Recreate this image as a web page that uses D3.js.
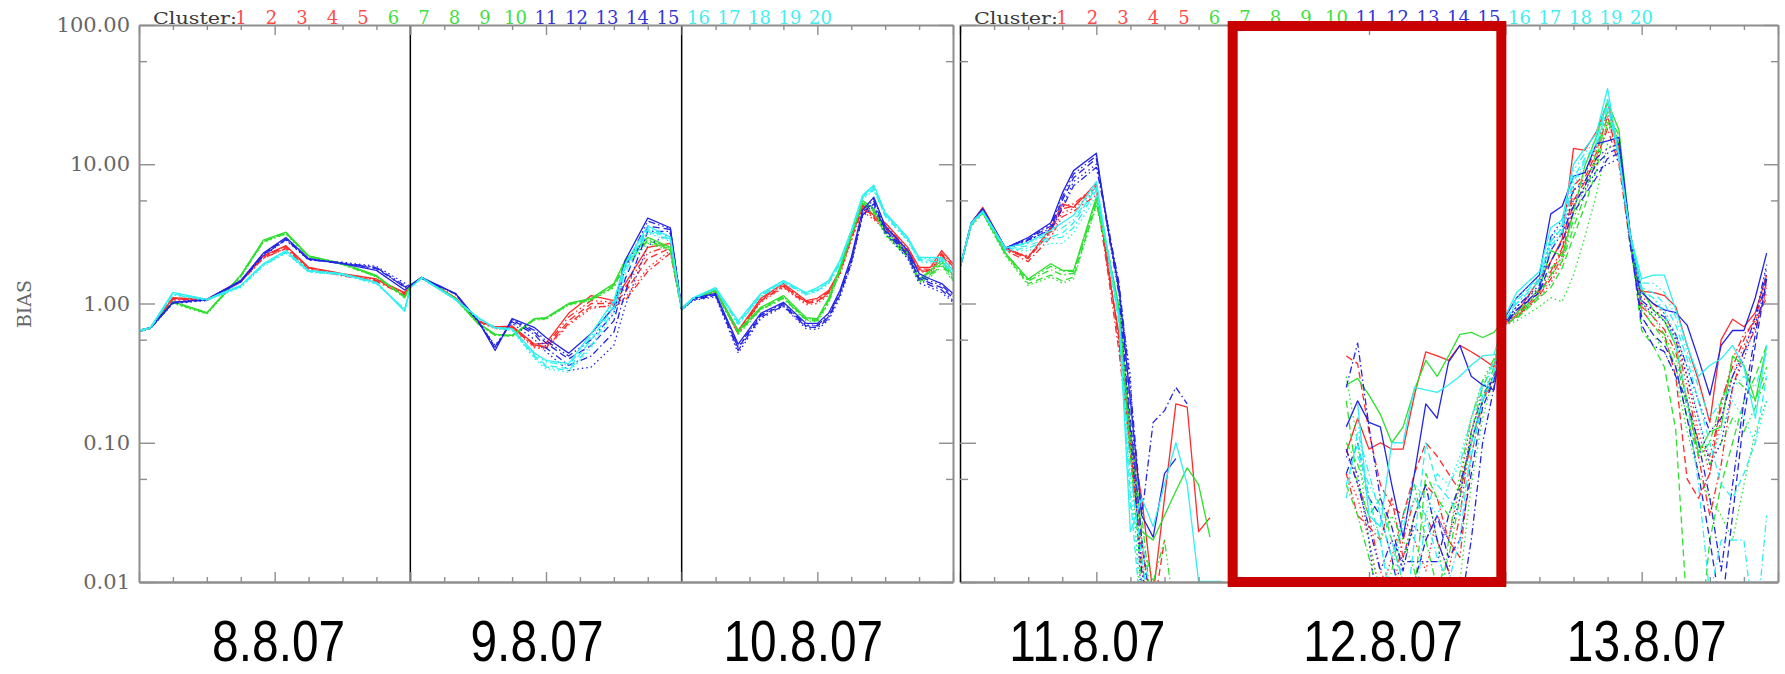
<!DOCTYPE html>
<html><head><meta charset="utf-8">
<script src="https://cdn.jsdelivr.net/npm/d3@7/dist/d3.min.js"></script>
<style>html,body{margin:0;padding:0;background:#fff;}svg{display:block}</style>
</head><body>
<svg id="chart" width="1785" height="674"></svg>
<script>
// ---------------- DATA ----------------
const clusterLabels = d3.range(1, 21).map(String);
const dayLabels = ["8.8.07", "9.8.07", "10.8.07", "11.8.07", "12.8.07", "13.8.07"];
const yTickValues = [100, 10, 1, 0.1, 0.01];
const yTickLabels = ["100.00", "10.00", "1.00", "0.10", "0.01"];
const yMinorValues = [55, 5.5, 0.55, 0.055];

// hours since start of each panel (left: 8.8-10.8, right: 11.8-13.8)
const hoursLeft = [0,1,3,6,9,11,13,15,18,21,23.5,24, 25,28,30,31.5,33,35,36,38,40,42,43,45,47,48, 49,51,53,55,57,59,60,61,62,63,64,65,66,68,69,70,71,72];
const hoursRight = [0,1,2,4,6,8,9,10,12,13,14,15,16,17,18,19,20,21,22,23, 34,35,36,37,38,39,40,41,42,43,44,45,46,47,48, 49,51,52,53,54,55,56,57,58,59,60,61,62,63,64,65,66,67,68,69,70,71];

// clusters 1-5 (red), 6-10 (green), 11-15 (blue), 16-20 (cyan)
const redLeft = [
 [0.64,0.67,1.10,1.07,1.46,2.20,2.60,1.82,1.64,1.50,1.20,1.35, 1.54,1.10,0.75,0.68,0.69,0.51,0.52,0.85,1.14,1.05,1.39,2.53,2.70,0.92, 1.09,1.24,0.64,1.09,1.39,1.05,1.09,1.24,1.73,3.10,5.10,4.30,3.80,2.53,1.82,1.82,2.40,1.93],
 [0.63,0.66,1.06,1.05,1.42,2.10,2.50,1.78,1.62,1.48,1.18,1.33, 1.52,1.08,0.74,0.66,0.66,0.48,0.47,0.70,0.92,0.98,1.10,1.80,2.40,0.90, 1.07,1.22,0.60,1.02,1.30,0.98,1.00,1.15,1.60,2.80,4.60,4.00,3.40,2.30,1.70,1.65,2.10,1.75],
 [0.64,0.67,1.08,1.06,1.44,2.15,2.55,1.80,1.60,1.46,1.17,1.34, 1.53,1.09,0.75,0.67,0.68,0.50,0.49,0.75,1.00,1.00,1.20,2.10,2.50,0.91, 1.08,1.23,0.62,1.05,1.34,1.02,1.04,1.20,1.68,2.95,4.90,4.20,3.60,2.40,1.75,1.72,2.25,1.85],
 [0.63,0.66,1.07,1.05,1.43,2.12,2.48,1.76,1.58,1.44,1.15,1.32, 1.52,1.09,0.74,0.67,0.67,0.49,0.48,0.72,0.95,0.95,1.05,1.70,2.30,0.90, 1.08,1.22,0.61,1.04,1.32,1.00,1.03,1.18,1.65,2.90,4.80,4.10,3.50,2.35,1.72,1.70,2.20,1.80],
 [0.64,0.67,1.09,1.06,1.45,2.18,2.58,1.81,1.63,1.49,1.19,1.34, 1.53,1.10,0.75,0.68,0.68,0.50,0.50,0.80,1.05,1.02,1.30,2.30,2.60,0.91, 1.09,1.24,0.63,1.07,1.36,1.03,1.06,1.22,1.70,3.00,5.00,4.20,3.70,2.45,1.78,1.76,2.30,1.88]
];
const greenLeft = [
 [0.64,0.67,1.03,0.86,1.60,2.85,3.25,2.20,1.94,1.59,1.12,1.35, 1.54,1.09,0.72,0.60,0.59,0.78,0.79,1.00,1.09,1.39,2.04,2.98,2.53,0.92, 1.09,1.24,0.64,0.94,1.14,0.79,0.78,1.09,1.82,3.20,5.50,4.80,3.35,2.30,1.50,1.73,2.04,1.60],
 [0.63,0.66,1.00,0.84,1.55,2.75,3.15,2.15,1.90,1.55,1.10,1.33, 1.52,1.07,0.71,0.59,0.58,0.76,0.77,0.97,1.05,1.30,1.85,2.70,2.40,0.90, 1.07,1.22,0.60,0.90,1.08,0.75,0.74,1.00,1.70,3.00,5.20,4.40,3.10,2.10,1.40,1.55,1.85,1.45],
 [0.64,0.67,1.02,0.85,1.58,2.80,3.20,2.18,1.92,1.57,1.11,1.34, 1.53,1.08,0.72,0.60,0.58,0.77,0.78,0.98,1.07,1.35,1.95,2.85,2.45,0.91, 1.08,1.23,0.62,0.92,1.10,0.77,0.76,1.05,1.75,3.10,5.30,4.60,3.20,2.20,1.45,1.62,1.95,1.52],
 [0.63,0.66,1.01,0.85,1.56,2.78,3.18,2.16,1.91,1.56,1.10,1.33, 1.52,1.08,0.71,0.59,0.59,0.77,0.78,0.99,1.06,1.32,1.90,2.80,2.42,0.90, 1.08,1.22,0.61,0.91,1.09,0.76,0.75,1.02,1.72,3.05,5.25,4.50,3.15,2.15,1.42,1.58,1.90,1.48],
 [0.64,0.67,1.03,0.86,1.59,2.82,3.22,2.19,1.93,1.58,1.11,1.34, 1.53,1.09,0.72,0.60,0.59,0.78,0.79,1.00,1.08,1.37,2.00,2.90,2.50,0.91, 1.09,1.23,0.63,0.93,1.12,0.78,0.77,1.07,1.78,3.15,5.40,4.70,3.25,2.25,1.48,1.68,2.00,1.56]
];
const blueLeft = [
 [0.64,0.67,1.02,1.07,1.46,2.30,2.98,2.10,1.93,1.73,1.25,1.35, 1.54,1.18,0.75,0.46,0.78,0.67,0.57,0.44,0.61,0.94,2.04,4.10,3.50,0.92, 1.09,1.18,0.51,0.85,1.02,0.72,0.72,0.85,1.24,2.14,4.67,5.80,3.60,2.40,1.64,1.50,1.39,1.18],
 [0.63,0.66,1.00,1.05,1.42,2.20,2.85,2.05,1.98,1.85,1.40,1.33, 1.52,1.16,0.74,0.50,0.72,0.55,0.45,0.33,0.35,0.50,0.95,2.60,3.20,0.90, 1.05,1.12,0.44,0.78,0.95,0.66,0.65,0.76,1.10,1.90,4.20,5.00,3.20,2.10,1.40,1.30,1.20,1.02],
 [0.64,0.67,1.01,1.06,1.44,2.25,2.90,2.08,1.95,1.78,1.32,1.34, 1.53,1.17,0.75,0.48,0.76,0.62,0.52,0.40,0.50,0.75,1.50,3.60,3.40,0.91, 1.07,1.15,0.48,0.82,0.98,0.69,0.69,0.80,1.18,2.00,4.40,5.40,3.40,2.25,1.52,1.40,1.30,1.10],
 [0.63,0.66,1.01,1.06,1.43,2.22,2.88,2.06,1.94,1.80,1.35,1.33, 1.52,1.17,0.74,0.49,0.74,0.60,0.48,0.36,0.42,0.62,1.20,3.30,3.30,0.90, 1.06,1.14,0.46,0.80,0.96,0.68,0.67,0.78,1.15,1.95,4.30,5.20,3.30,2.20,1.48,1.35,1.25,1.05],
 [0.64,0.67,1.02,1.07,1.45,2.28,2.95,2.09,1.96,1.82,1.30,1.34, 1.53,1.18,0.75,0.47,0.77,0.64,0.54,0.42,0.55,0.85,1.80,3.90,3.45,0.91, 1.08,1.16,0.49,0.83,1.00,0.70,0.70,0.82,1.20,2.07,4.50,5.60,3.50,2.30,1.58,1.45,1.35,1.14]
];
const cyanLeft = [
 [0.64,0.67,1.20,1.07,1.35,1.93,2.40,1.73,1.64,1.42,0.88,1.30, 1.54,1.07,0.79,0.67,0.66,0.44,0.39,0.37,0.61,1.05,1.93,3.60,3.00,0.92, 1.10,1.30,0.75,1.18,1.46,1.20,1.30,1.46,2.04,3.35,6.00,7.10,4.50,2.98,2.14,2.14,2.14,1.73],
 [0.63,0.66,1.15,1.05,1.30,1.85,2.30,1.68,1.60,1.38,0.92,1.29, 1.52,1.06,0.78,0.66,0.64,0.40,0.34,0.32,0.48,0.85,1.60,3.20,2.80,0.90, 1.08,1.27,0.70,1.12,1.40,1.15,1.22,1.38,1.90,3.20,5.60,6.50,4.20,2.80,2.00,1.95,1.95,1.60],
 [0.64,0.67,1.18,1.06,1.33,1.90,2.35,1.70,1.62,1.40,0.90,1.30, 1.53,1.07,0.79,0.67,0.65,0.42,0.36,0.34,0.55,0.95,1.80,3.40,2.90,0.91, 1.09,1.28,0.72,1.15,1.43,1.18,1.26,1.42,1.97,3.28,5.80,6.80,4.35,2.90,2.07,2.05,2.05,1.66],
 [0.63,0.66,1.16,1.06,1.32,1.88,2.32,1.69,1.61,1.39,0.91,1.29, 1.52,1.06,0.78,0.66,0.65,0.41,0.35,0.33,0.50,0.90,1.70,3.30,2.85,0.90, 1.08,1.27,0.71,1.13,1.41,1.16,1.24,1.40,1.93,3.24,5.70,6.60,4.25,2.85,2.03,2.00,2.00,1.63],
 [0.64,0.67,1.19,1.07,1.34,1.92,2.38,1.72,1.63,1.41,0.89,1.30, 1.53,1.07,0.79,0.67,0.66,0.43,0.38,0.36,0.58,1.00,1.88,3.50,2.95,0.91, 1.09,1.29,0.74,1.17,1.45,1.19,1.28,1.44,2.00,3.30,5.90,6.90,4.40,2.95,2.10,2.10,2.10,1.70]
];

const redRight = [
 [1.82,3.80,4.90,2.50,2.14,3.50,5.20,4.90,7.30,1.80,0.60,0.116,0.04,0.008,0.04,0.19,0.18,0.023,0.029,null,
  0.085,0.15,0.09,0.10,0.09,0.09,0.22,0.45,0.42,0.39,0.50,0.45,0.40,0.35,0.78,
  0.85,1.50,2.00,2.90,13.0,12.6,17.0,28.0,13.0,3.20,1.22,1.20,1.14,0.95,0.50,0.28,0.14,0.55,0.77,0.68,0.86,1.60],
 [1.80,3.70,4.70,2.40,2.20,3.20,4.50,4.80,6.50,2.00,0.50,0.10,0.02,0.004,null,null,null,null,null,null,
  0.06,0.04,0.02,0.008,0.015,0.03,0.02,0.012,0.03,0.02,0.05,0.15,0.25,0.30,0.72,
  0.80,1.10,1.40,2.00,5.00,7.00,10.0,20.0,12.0,3.00,1.00,0.90,0.80,0.60,0.30,0.12,0.06,0.15,0.30,0.50,0.70,1.20],
 [1.81,3.75,4.80,2.45,2.10,3.30,4.80,5.00,6.80,1.90,0.55,0.09,0.018,0.006,0.02,null,null,null,null,null,
  0.42,0.37,0.12,0.05,0.035,0.03,0.06,0.10,0.08,0.06,0.045,0.10,0.20,0.30,0.74,
  0.82,1.20,1.60,2.40,6.50,8.00,12.0,22.0,11.0,2.80,0.90,0.70,0.60,0.30,0.055,0.04,0.06,0.20,0.35,0.55,0.80,1.40],
 [1.80,3.70,4.60,2.40,2.00,3.00,4.20,4.60,6.00,1.70,0.45,0.08,0.015,0.003,null,null,null,null,null,null,
  0.06,0.03,0.025,0.02,0.04,0.015,0.03,0.05,0.04,0.02,0.015,0.08,0.20,0.28,0.70,
  0.80,1.15,1.50,2.20,5.50,7.50,11.0,18.0,10.0,2.60,0.95,0.80,0.65,0.45,0.20,0.08,0.03,0.07,0.25,0.45,0.65,1.30],
 [1.82,3.80,4.85,2.50,2.15,3.40,5.00,5.20,7.00,2.10,0.52,0.10,0.012,0.004,null,null,null,null,null,null,
  0.09,0.05,0.03,0.012,0.008,0.02,0.04,0.03,0.02,0.012,0.03,0.12,0.22,0.30,0.73,
  0.82,1.25,1.70,2.50,7.00,8.50,13.0,24.0,12.0,2.90,1.10,1.00,0.85,0.55,0.25,0.10,0.08,0.18,0.40,0.60,0.75,1.10]
];
const greenRight = [
 [1.82,3.80,4.60,2.30,1.50,1.93,1.73,1.73,5.80,2.40,0.94,0.116,0.023,0.02,0.03,0.045,0.066,0.05,0.021,null,
  0.26,0.29,0.22,0.16,0.10,0.13,0.24,0.39,0.30,0.42,0.60,0.62,0.57,0.62,0.80,
  0.85,1.28,2.40,2.20,4.50,9.70,15.6,28.0,17.6,3.10,1.28,0.90,0.75,0.50,0.20,0.085,0.12,0.13,0.42,0.36,0.20,0.50],
 [1.80,3.60,4.40,2.20,1.35,1.55,1.40,1.50,5.00,2.30,0.90,0.10,0.004,null,null,null,null,null,null,null,
  0.30,0.10,0.02,0.008,0.004,0.015,0.03,0.05,0.02,0.006,0.01,0.05,0.15,0.30,0.70,
  0.75,0.95,1.10,1.03,1.60,3.00,6.00,14.0,12.0,2.50,0.80,0.60,0.45,0.30,0.12,0.06,0.04,0.03,0.02,0.05,0.12,0.20],
 [1.81,3.70,4.50,2.25,1.39,1.60,1.45,1.55,5.20,2.30,0.85,0.08,0.01,0.004,null,null,null,null,null,null,
  0.20,0.05,0.03,0.04,0.02,0.01,0.008,0.06,0.04,0.03,0.05,0.10,0.20,0.35,0.72,
  0.78,1.10,1.30,1.80,3.00,5.00,9.00,20.0,15.0,2.80,0.64,0.50,0.35,0.124,0.006,0.003,0.02,0.05,0.10,0.20,0.30,0.50],
 [1.80,3.65,4.50,2.25,1.45,1.75,1.60,1.65,5.50,2.35,0.90,0.12,0.03,0.005,null,null,null,null,null,null,
  0.05,0.03,0.015,0.007,0.012,0.03,0.05,0.02,0.009,0.015,0.04,0.12,0.25,0.38,0.74,
  0.80,1.15,1.60,2.00,3.50,6.00,11.0,22.0,14.0,2.90,0.90,0.70,0.55,0.35,0.15,0.08,0.10,0.20,0.30,0.25,0.20,0.35],
 [1.82,3.75,4.55,2.30,1.48,1.85,1.70,1.70,5.60,2.40,0.92,0.11,0.02,0.01,0.02,0.005,null,null,null,null,
  0.10,0.07,0.04,0.02,0.03,0.02,0.012,0.006,0.004,0.02,0.06,0.15,0.28,0.40,0.76,
  0.82,1.20,1.80,2.10,4.00,7.00,12.0,24.0,16.0,3.00,1.00,0.80,0.60,0.40,0.18,0.10,0.07,0.10,0.15,0.12,0.18,0.30]
];
const blueRight = [
 [1.82,3.80,4.80,2.50,2.98,3.80,6.20,9.00,12.0,3.50,1.30,0.20,0.03,0.021,0.06,0.077,null,null,null,null,
  0.13,0.20,0.14,0.13,0.05,0.021,0.06,0.19,0.15,0.38,0.50,0.30,0.26,0.24,0.80,
  1.10,1.60,4.40,5.00,8.20,8.70,14.0,14.7,15.6,3.10,1.20,1.00,0.90,0.86,0.70,0.40,0.22,0.50,0.64,0.64,1.10,2.30],
 [1.80,3.70,4.70,2.45,2.80,3.50,5.00,7.50,10.0,3.80,1.20,0.30,0.006,0.003,null,null,null,null,null,null,
  0.08,0.06,0.02,0.004,0.008,0.015,0.025,0.02,0.03,0.02,0.04,0.12,0.22,0.30,0.75,
  0.95,1.30,2.80,3.50,5.50,6.50,9.00,10.0,11.0,2.80,1.00,0.85,0.75,0.55,0.30,0.15,0.07,0.10,0.25,0.40,0.70,1.80],
 [1.81,3.75,4.75,2.50,2.90,3.60,5.50,8.00,11.0,3.60,1.25,0.15,0.02,0.005,null,null,null,null,null,null,
  0.06,0.10,0.04,0.03,0.015,0.006,0.01,0.02,0.03,0.015,0.02,0.06,0.18,0.28,0.72,
  0.90,1.20,2.00,2.80,4.50,6.00,8.00,11.0,12.0,2.60,0.80,0.60,0.50,0.35,0.15,0.06,0.02,0.006,0.03,0.15,0.50,1.50],
 [1.80,3.70,4.70,2.45,2.85,3.40,4.80,7.00,9.50,3.70,1.40,0.25,0.03,0.14,0.17,0.25,0.19,null,null,null,
  0.25,0.52,0.13,0.04,0.025,0.012,0.03,0.05,0.02,0.012,0.006,0.02,0.10,0.25,0.70,
  0.90,1.25,2.40,3.20,5.00,7.00,10.0,12.0,13.0,2.90,0.70,0.50,0.45,0.30,0.20,0.10,0.04,0.012,0.05,0.20,0.60,1.60],
 [1.82,3.80,4.80,2.50,2.95,3.70,5.80,8.50,11.5,3.40,1.15,0.12,0.012,0.004,null,null,null,null,null,null,
  0.09,0.05,0.025,0.012,0.02,0.014,0.014,0.014,0.014,0.03,0.05,0.10,0.20,0.30,0.74,
  0.95,1.35,3.00,4.00,6.50,7.50,11.0,13.0,14.0,3.00,1.05,0.90,0.80,0.60,0.35,0.20,0.12,0.15,0.30,0.45,0.80,1.90]
];
const cyanRight = [
 [1.82,3.80,4.60,2.50,2.75,3.35,3.80,4.30,7.50,2.40,0.80,0.023,0.04,0.025,0.05,0.10,0.05,0.0101,0.0101,0.0101,
  null,0.19,0.03,0.025,0.10,0.10,0.25,0.24,0.23,0.26,0.30,0.36,0.42,0.43,0.82,
  1.20,1.70,3.50,4.00,10.0,13.0,16.5,35.0,11.6,3.10,1.50,1.60,1.60,0.90,0.50,0.30,0.36,0.40,0.50,0.35,0.15,0.50],
 [1.80,3.70,4.50,2.40,2.40,2.70,2.70,3.20,6.00,2.30,0.75,0.05,0.008,null,null,null,null,null,null,null,
  null,0.15,0.03,0.02,0.008,0.03,0.05,0.04,0.03,0.05,0.08,0.15,0.25,0.35,0.76,
  1.00,1.40,2.50,3.20,7.00,10.0,13.0,25.0,12.0,3.00,1.20,1.10,0.90,0.60,0.35,0.15,0.08,0.12,0.20,0.15,0.10,0.20],
 [1.81,3.75,4.55,2.45,2.60,3.00,3.20,3.80,6.80,2.35,0.70,0.04,0.005,null,null,null,null,null,null,null,
  0.05,0.10,0.04,0.02,0.006,0.004,0.02,0.10,0.05,0.04,0.03,0.08,0.20,0.30,0.74,
  1.05,1.50,2.80,3.50,8.00,11.0,14.0,28.0,11.0,3.00,1.30,1.20,1.00,0.70,0.40,0.20,0.10,0.05,0.04,0.06,0.10,0.30],
 [1.80,3.70,4.50,2.40,2.50,2.90,3.00,3.50,6.50,2.30,0.78,0.06,0.015,0.004,null,null,null,null,null,null,
  0.04,0.12,0.06,0.03,0.015,0.025,0.04,0.03,0.015,0.01,0.02,0.10,0.22,0.32,0.75,
  1.00,1.45,2.60,3.30,7.50,10.5,13.5,26.0,11.5,3.00,1.25,1.10,0.85,0.50,0.20,0.05,0.008,0.02,0.02,0.02,0.004,0.03],
 [1.82,3.80,4.60,2.50,2.70,3.20,3.50,4.00,7.00,2.40,0.82,0.035,0.02,0.006,null,null,null,null,null,null,
  null,0.08,0.05,0.035,0.02,0.01,0.006,0.03,0.06,0.05,0.07,0.15,0.27,0.38,0.78,
  1.10,1.55,3.00,3.70,9.00,12.0,15.0,30.0,11.0,3.10,1.40,1.40,1.20,0.80,0.45,0.25,0.15,0.20,0.25,0.30,0.25,0.45]
];

// ---------------- STYLE / LAYOUT ----------------
const groupColors = ["#ff2a2a", "#2ee02e", "#2424e6", "#30f0f0"];
const numberColors = ["#ff4a4a", "#3fdf3f", "#3535d8", "#45eeee"];
const dashStyles = [null, "1.5,3", "7,4", "7,3,1.5,3", "7,3,1.5,3,1.5,3,1.5,3"];
const axisGray = "#8e8e8e";
const yTop = 25, yBot = 582;

const svg = d3.select("#chart");
svg.append("rect").attr("width", 1785).attr("height", 674).attr("fill", "#fff");

const y = d3.scaleLog().domain([0.01, 100]).range([yBot, yTop]);

const panels = [
  {id: "L", x0: 139, x1: 953, hours: hoursLeft, groups: [redLeft, greenLeft, blueLeft, cyanLeft],
   leftColor: axisGray, labels: true, dividers: [24, 48], days: [0, 1, 2], dayShift: [4, -9, -14]},
  {id: "R", x0: 960, x1: 1778, hours: hoursRight, groups: [redRight, greenRight, blueRight, cyanRight],
   leftColor: "#000", labels: false, dividers: [], days: [3, 4, 5], dayShift: [-9, 14, 5]}
];

function styleAxis(g, color, domainWidth) {
  g.select(".domain").attr("stroke", color).attr("stroke-width", domainWidth);
  g.selectAll(".tick line").attr("stroke", color).attr("stroke-width", 1.4);
}

panels.forEach(p => {
  const x = d3.scaleLinear().domain([0, 72]).range([p.x0, p.x1]);
  const clipId = "clip" + p.id;
  svg.append("clipPath").attr("id", clipId).append("rect")
    .attr("x", p.x0).attr("y", yTop).attr("width", p.x1 - p.x0).attr("height", yBot - yTop);

  const lg = svg.append("g").attr("clip-path", `url(#${clipId})`);
  const line = d3.line().defined(d => d.v != null).x(d => x(d.t)).y(d => y(d.v));
  p.groups.forEach((grp, gi) => grp.forEach((vals, si) => {
    if (vals.length !== p.hours.length) throw new Error(`length mismatch panel ${p.id} group ${gi} series ${si}: ${vals.length} vs ${p.hours.length}`);
    const pts = vals.map((v, i) => ({t: p.hours[i], v}));
    lg.append("path").datum(pts).attr("d", line)
      .attr("fill", "none").attr("stroke", groupColors[gi]).attr("stroke-width", 1.3)
      .attr("stroke-linejoin", "round")
      .attr("stroke-dasharray", dashStyles[si]);
  }));

  // dividers
  p.dividers.forEach(h => {
    svg.append("line").attr("x1", x(h)).attr("x2", x(h)).attr("y1", yTop).attr("y2", yBot)
      .attr("stroke", "#000").attr("stroke-width", 1.5);
  });

  const major = d3.range(0, 73, 12);
  const minor = d3.range(0, 73, 3).filter(h => h % 12 !== 0);
  // bottom axis
  const gb = svg.append("g").attr("transform", `translate(0,${yBot})`)
    .call(d3.axisBottom(x).tickValues(major).tickSize(-10).tickSizeOuter(0).tickFormat(""));
  styleAxis(gb, axisGray, 2.5);
  const gbm = svg.append("g").attr("transform", `translate(0,${yBot})`)
    .call(d3.axisBottom(x).tickValues(minor).tickSize(-5).tickSizeOuter(0).tickFormat(""));
  gbm.select(".domain").remove(); styleAxis(gbm, axisGray, 1);
  // top axis
  const gt = svg.append("g").attr("transform", `translate(0,${yTop})`)
    .call(d3.axisTop(x).tickValues(major).tickSize(-10).tickSizeOuter(0).tickFormat(""));
  styleAxis(gt, axisGray, 2);
  const gtm = svg.append("g").attr("transform", `translate(0,${yTop})`)
    .call(d3.axisTop(x).tickValues(minor).tickSize(-5).tickSizeOuter(0).tickFormat(""));
  gtm.select(".domain").remove(); styleAxis(gtm, axisGray, 1);

  // left axis
  const gl = svg.append("g").attr("transform", `translate(${p.x0},0)`)
    .call(d3.axisLeft(y).tickValues(yTickValues).tickSize(-16).tickSizeOuter(0).tickPadding(9)
      .tickFormat((d, i) => p.labels ? yTickLabels[i] : ""));
  styleAxis(gl, p.leftColor, p.labels ? 2 : 1.5);
  gl.selectAll(".tick line").attr("stroke", axisGray);
  gl.selectAll("text").attr("font-family", "DejaVu Serif").attr("font-size", 21).attr("fill", "#666");
  const glm = svg.append("g").attr("transform", `translate(${p.x0},0)`)
    .call(d3.axisLeft(y).tickValues(yMinorValues).tickSize(-8).tickSizeOuter(0).tickFormat(""));
  glm.select(".domain").remove(); styleAxis(glm, axisGray, 1);
  // right axis
  const gr = svg.append("g").attr("transform", `translate(${p.x1},0)`)
    .call(d3.axisRight(y).tickValues(yTickValues).tickSize(-14).tickSizeOuter(0).tickFormat(""));
  styleAxis(gr, axisGray, 2);
  const grm = svg.append("g").attr("transform", `translate(${p.x1},0)`)
    .call(d3.axisRight(y).tickValues(yMinorValues).tickSize(-7).tickSizeOuter(0).tickFormat(""));
  grm.select(".domain").remove(); styleAxis(grm, axisGray, 1);

  // cluster legend along the top
  svg.append("text").attr("x", p.x0 + 14).attr("y", 24)
    .attr("font-family", "DejaVu Serif").attr("font-size", 17).attr("fill", "#3a3a3a")
    .attr("textLength", 84).attr("lengthAdjust", "spacingAndGlyphs").text("Cluster:");
  clusterLabels.forEach((c, i) => {
    svg.append("text").attr("x", p.x0 + 102 + 30.5 * i).attr("y", 24)
      .attr("text-anchor", "middle").attr("font-family", "DejaVu Serif").attr("font-size", 18)
      .attr("fill", numberColors[Math.floor(i / 5)]).text(c);
  });

  // day labels below
  p.days.forEach((d, k) => {
    const cx = x(k * 24 + 12) + p.dayShift[k];
    svg.append("text").attr("transform", `translate(${cx},661) scale(0.84,1)`)
      .attr("text-anchor", "middle").attr("font-family", "Liberation Sans, Arial, sans-serif")
      .attr("font-size", 57).attr("fill", "#000").text(dayLabels[d]);
  });
});

// y axis title
svg.append("text").attr("transform", "translate(31,304) rotate(-90)")
  .attr("text-anchor", "middle").attr("font-family", "DejaVu Serif").attr("font-size", 19)
  .attr("fill", "#666").text("BIAS");

// highlight box around 12.8.07
const xR = d3.scaleLinear().domain([0, 72]).range([panels[1].x0, panels[1].x1]);
svg.append("rect").attr("x", xR(24)).attr("y", 26).attr("width", xR(48) - xR(24) - 4).attr("height", 556)
  .attr("fill", "none").attr("stroke", "#c80000").attr("stroke-width", 10);
</script>
</body></html>
